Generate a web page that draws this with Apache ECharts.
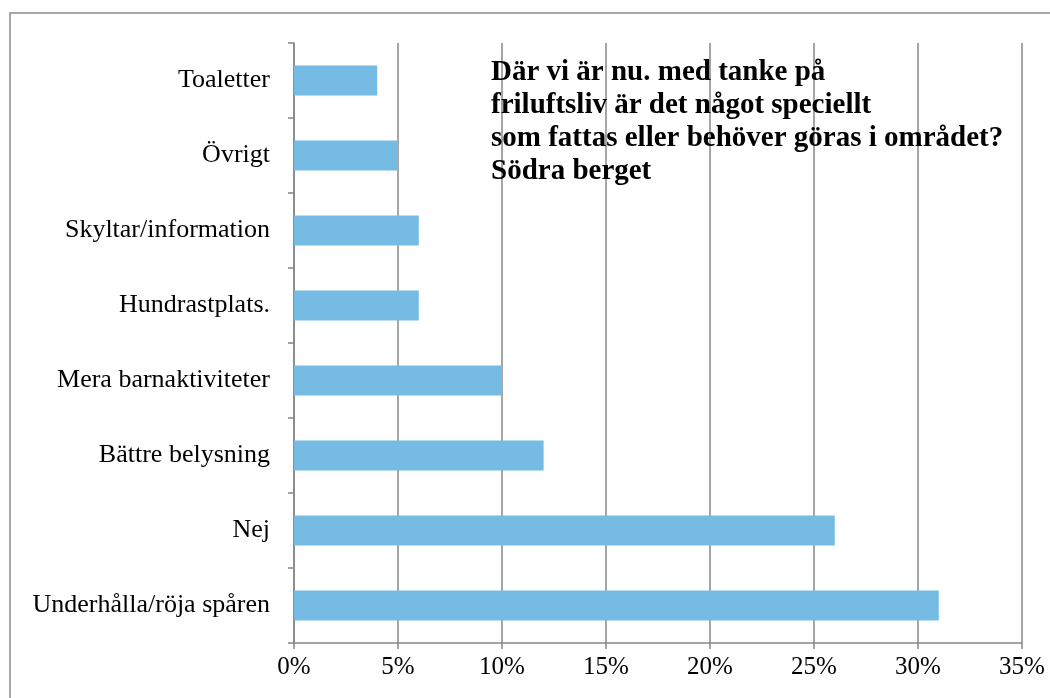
<!DOCTYPE html>
<html>
<head>
<meta charset="utf-8">
<script src="https://cdn.jsdelivr.net/npm/echarts@6/dist/echarts.min.js"></script>
<style>
    html, body { margin: 0; padding: 0; background: #fff; }
    #chart { width: 1050px; height: 698px; }
</style>
</head>
<body>
<div id="chart"></div>
<script>
    // categories listed bottom to top
    var categories = ['Underhålla/röja spåren', 'Nej', 'Bättre belysning', 'Mera barnaktiviteter',
        'Hundrastplats.', 'Skyltar/information', 'Övrigt', 'Toaletter'];
    var percentValues = [31, 26, 12, 10, 6, 6, 5, 4];
    var titleLines = ['Där vi är nu. med tanke på', 'friluftsliv är det något speciellt',
        'som fattas eller behöver göras i området?', 'Södra berget'];

    var chart = echarts.init(document.getElementById('chart'));
    var serif = '"Liberation Serif", "Times New Roman", serif';
    var gray = '#878787';

    var option = {
        animation: false,
        title: {
            text: titleLines.join('\n'),
            left: 486,
            top: 51,
            textStyle: {
                fontFamily: serif,
                fontWeight: 'bold',
                fontSize: 29,
                lineHeight: 33,
                color: '#000'
            }
        },
        graphic: [{
            type: 'rect',
            shape: { x: 10, y: 13, width: 1200, height: 900 },
            style: { fill: 'none', stroke: '#8c8c8c', lineWidth: 1.5 },
            silent: true
        }],
        grid: { left: 294, right: 28, top: 43, bottom: 55 },
        xAxis: {
            type: 'value',
            min: 0,
            max: 35,
            interval: 5,
            axisLine: { show: true, lineStyle: { color: gray, width: 1.5 } },
            axisTick: { show: true, length: 6, lineStyle: { color: gray, width: 1.5 } },
            splitLine: { show: true, lineStyle: { color: gray, width: 1.5 } },
            axisLabel: {
                formatter: '{value}%',
                fontFamily: serif,
                fontSize: 25,
                color: '#000',
                margin: 12
            }
        },
        yAxis: {
            type: 'category',
            data: categories,
            axisLine: { show: true, lineStyle: { color: gray, width: 1.5 } },
            axisTick: { show: true, length: 6, alignWithLabel: false, lineStyle: { color: gray, width: 1.5 } },
            axisLabel: {
                fontFamily: serif,
                fontSize: 26,
                color: '#000',
                margin: 24
            }
        },
        series: [{
            type: 'bar',
            data: percentValues,
            barWidth: 30,
            itemStyle: { color: '#75bbe4' }
        }]
    };
    chart.setOption(option);
</script>
</body>
</html>
